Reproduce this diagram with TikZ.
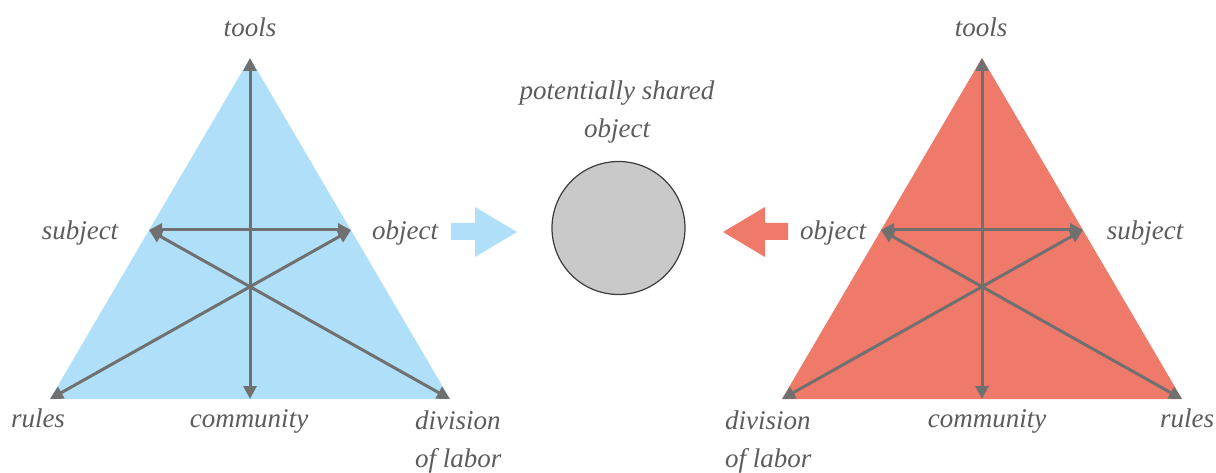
\documentclass[tikz,border=0pt]{standalone}
\usepackage{fontspec}
\setmainfont{Liberation Serif}
\usetikzlibrary{arrows.meta}
\definecolor{skyfill}{RGB}{176,224,249}
\definecolor{salmonfill}{RGB}{240,122,106}
\definecolor{linkgray}{RGB}{112,112,112}
\definecolor{labelgray}{RGB}{92,92,92}
\definecolor{discfill}{RGB}{201,201,201}
\definecolor{discedge}{RGB}{60,60,60}
\tikzset{
  link/.style={draw=linkgray, line width=3pt,
    {Triangle[length=13pt,width=13pt]}-{Triangle[length=13pt,width=13pt]}},
  lbl/.style={text=labelgray, inner sep=0pt,
    font=\fontsize{27}{38}\itshape\selectfont},
}
\begin{document}
\begin{tikzpicture}[x=1pt,y=-1pt]
\useasboundingbox (0,0) rectangle (1216,473);

% ---------- left activity system ----------
\coordinate (LA) at (250,58);
\coordinate (LL) at (50,399);
\coordinate (LR) at (450,399);
\coordinate (LS) at (149,230);
\coordinate (LO) at (351,230);
\coordinate (LB) at (250,399);
\fill[skyfill] (LA) -- (LL) -- (LR) -- cycle;
\draw[link] (LA) -- (LB);
\draw[link] (LS) -- (LO);
\draw[link] (LS) -- (LR);
\draw[link] (LO) -- (LL);

\node[lbl, anchor=base] (ltools) at (250,37) {tools};
\node[lbl, anchor=base] (lsubj) at (80,240) {subject};
\node[lbl, anchor=base] (lobj) at (405,240) {object};
\node[lbl, anchor=base] (lrules) at (38,427) {rules};
\node[lbl, anchor=base] (lcomm) at (249,427) {community};
\node[lbl, anchor=base west, align=left] (ldiv) at (415,467) {division\\of labor};

% ---------- right activity system ----------
\coordinate (RA) at (982,58);
\coordinate (RL) at (782,399);
\coordinate (RR) at (1182,399);
\coordinate (RO) at (881,230);
\coordinate (RS) at (1083,230);
\coordinate (RB) at (982,399);
\fill[salmonfill] (RA) -- (RL) -- (RR) -- cycle;
\draw[link] (RA) -- (RB);
\draw[link] (RO) -- (RS);
\draw[link] (RO) -- (RR);
\draw[link] (RS) -- (RL);

\node[lbl, anchor=base] (rtools) at (981,37) {tools};
\node[lbl, anchor=base] (robj) at (833,240) {object};
\node[lbl, anchor=base] (rsubj) at (1145,240) {subject};
\node[lbl, anchor=base] (rcomm) at (987,427) {community};
\node[lbl, anchor=base] (rrules) at (1187,427) {rules};
\node[lbl, anchor=base west, align=left] (rdiv) at (725,467) {division\\of labor};

% ---------- shared object ----------
\node[circle, draw=discedge, line width=1.2pt, fill=discfill,
      minimum size=133pt, inner sep=0pt] (shared) at (618.5,228) {};
\node[lbl, anchor=base, align=center] (sharedlbl) at (617,138)
  {potentially shared\\object};

% block arrows pointing at the shared object
\fill[skyfill] (451,223) -- (475,223) -- (475,207) -- (517,232)
  -- (475,257) -- (475,240) -- (451,240) -- cycle;
\fill[salmonfill] (788,223) -- (765,223) -- (765,207) -- (723,232)
  -- (765,257) -- (765,240) -- (788,240) -- cycle;
\end{tikzpicture}
\end{document}
